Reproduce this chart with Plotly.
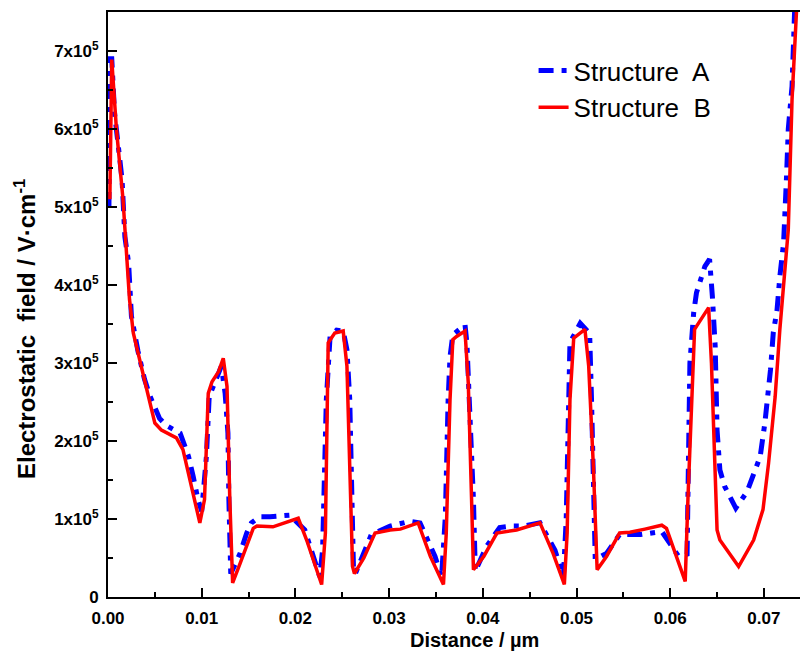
import plotly.graph_objects as go

# Distance (um) and electrostatic field (units of 1e5 V/cm)
dist_b = [0.0002, 0.0004, 0.0009, 0.0016, 0.0023, 0.0027, 0.0038, 0.0050, 0.0057, 0.0073,
          0.0080, 0.0098, 0.0103, 0.0107, 0.0111, 0.0118, 0.0123, 0.0127, 0.0130, 0.0133,
          0.0141, 0.0155, 0.0159, 0.0176, 0.0203, 0.0212, 0.0228, 0.0232, 0.0235, 0.0242,
          0.0251, 0.0255, 0.0258, 0.0261, 0.0263, 0.0273, 0.0285, 0.0301, 0.0312, 0.0331,
          0.0344, 0.0358, 0.0361, 0.0365, 0.0368, 0.0372, 0.0381, 0.03845, 0.0388, 0.0390,
          0.0401, 0.0415, 0.0436, 0.0461, 0.0475, 0.0487, 0.0490, 0.0493, 0.0497, 0.0509,
          0.0513, 0.0518, 0.0522, 0.0532, 0.0546, 0.0557, 0.0573, 0.0591, 0.0596, 0.0616,
          0.0619, 0.0626, 0.0628, 0.0641, 0.0644, 0.0650, 0.0653, 0.0673, 0.0689, 0.0699,
          0.0705, 0.0712, 0.0717, 0.0723, 0.0726, 0.0730, 0.0734, 0.0736]
field_b = [5.10, 6.89, 6.00, 5.10, 3.81, 3.385, 2.83, 2.23, 2.14, 2.04,
           1.89, 0.95, 1.25, 2.61, 2.76, 2.89, 3.06, 2.70, 1.25, 0.18,
           0.43, 0.88, 0.91, 0.90, 1.01, 0.73, 0.16, 0.82, 3.26, 3.385,
           3.41, 2.96, 1.67, 0.39, 0.30, 0.50, 0.82, 0.86, 0.87, 0.95,
           0.52, 0.16, 0.82, 2.53, 3.30, 3.34, 3.41, 2.74, 1.25, 0.35,
           0.52, 0.82, 0.86, 0.95, 0.56, 0.16, 0.82, 2.53, 3.32, 3.43,
           2.96, 1.67, 0.35, 0.52, 0.82, 0.83, 0.87, 0.92, 0.88, 0.20,
           1.29, 3.43, 3.47, 3.71, 3.00, 0.86, 0.73, 0.39, 0.73, 1.12,
           1.72, 2.57, 3.43, 4.28, 4.71, 6.38, 7.49, 7.80]

dist_a = [0.0001, 0.0002, 0.0004, 0.0007, 0.0011, 0.0015, 0.0018, 0.0022, 0.0025, 0.0032,
          0.0039, 0.0045, 0.0055, 0.0062, 0.0077, 0.0086, 0.0091, 0.0096, 0.0100, 0.0105,
          0.0108, 0.0114, 0.0121, 0.0125, 0.0128, 0.0129, 0.0131, 0.0141, 0.0148, 0.0153,
          0.0162, 0.0173, 0.0194, 0.0210, 0.0219, 0.0226, 0.0229, 0.0233, 0.0237, 0.0244,
          0.0251, 0.0255, 0.0258, 0.0260, 0.0262, 0.0264, 0.0271, 0.0281, 0.0301, 0.0322,
          0.0333, 0.0349, 0.0356, 0.0360, 0.0363, 0.0365, 0.0368, 0.0381, 0.0383, 0.0386,
          0.0390, 0.0392, 0.0404, 0.0418, 0.0431, 0.0443, 0.0461, 0.0477, 0.0486, 0.0489,
          0.0491, 0.0493, 0.0504, 0.0514, 0.0516, 0.0518, 0.0520, 0.0532, 0.0546, 0.0557,
          0.0568, 0.0591, 0.0609, 0.0618, 0.0619, 0.0621, 0.0625, 0.0628, 0.0637, 0.0642,
          0.0645, 0.0648, 0.0650, 0.0653, 0.0658, 0.0670, 0.0682, 0.0692, 0.0696, 0.0701,
          0.0704, 0.0707, 0.0710, 0.0714, 0.0717, 0.0721, 0.0724, 0.0726, 0.0730, 0.0731,
          0.0733]
field_a = [5.00, 6.90, 6.90, 6.20, 5.78, 5.35, 4.62, 4.28, 3.60, 3.15,
           2.79, 2.57, 2.29, 2.20, 2.10, 1.80, 1.54, 1.25, 1.10, 1.80,
           2.57, 2.76, 2.96, 2.61, 2.10, 1.25, 0.30, 0.56, 0.82, 0.95,
           1.03, 1.03, 1.05, 0.86, 0.52, 0.26, 0.60, 2.53, 3.34, 3.42,
           3.41, 3.17, 2.53, 1.25, 0.35, 0.30, 0.52, 0.80, 0.91, 0.97,
           0.95, 0.52, 0.26, 1.03, 2.53, 3.08, 3.36, 3.49, 3.26, 2.53,
           1.25, 0.33, 0.65, 0.89, 0.91, 0.91, 0.95, 0.60, 0.26, 1.00,
           2.53, 3.26, 3.51, 3.38, 2.53, 1.25, 0.48, 0.56, 0.80, 0.80,
           0.80, 0.84, 0.52, 0.55, 1.72, 3.00, 3.64, 3.90, 4.24, 4.33,
           3.85, 3.21, 2.14, 1.63, 1.42, 1.14, 1.35, 1.65, 1.80, 2.23,
           2.53, 2.91, 3.39, 3.68, 4.11, 4.54, 5.35, 6.00, 6.55, 7.15,
           7.60]

x_ticks = [0.00, 0.01, 0.02, 0.03, 0.04, 0.05, 0.06, 0.07]
x_labels = ["0.00", "0.01", "0.02", "0.03", "0.04", "0.05", "0.06", "0.07"]
y_ticks = [0, 1, 2, 3, 4, 5, 6, 7]
y_labels = ["0"] + [f"{v}x10<sup>5</sup>" for v in range(1, 8)]

x_title = "Distance / µm"
y_title = "Electrostatic  field / V·cm<sup>-1</sup>"

FONT = "Liberation Sans, Arial, sans-serif"

fig = go.Figure()
fig.add_trace(go.Scatter(
    x=dist_a, y=field_a, mode="lines", name="Structure  A",
    line=dict(color="#0000FF", width=5, dash="15px,8px,5px,8px"),
))
fig.add_trace(go.Scatter(
    x=dist_b, y=field_b, mode="lines", name="Structure  B",
    line=dict(color="#FF0000", width=3.5),
))

fig.update_layout(
    width=800, height=655,
    margin=dict(l=108, r=0, t=12, b=58),
    paper_bgcolor="white", plot_bgcolor="white",
    font=dict(family=FONT, color="black"),
    showlegend=True,
    legend=dict(
        x=0.615, y=0.94, xanchor="left", yanchor="top",
        bgcolor="rgba(0,0,0,0)", font=dict(size=26, family=FONT),
        tracegroupgap=0,
    ),
    annotations=[
        dict(text=f"<b>{x_title}</b>", xref="paper", yref="paper",
             x=0.529, y=-0.074, xanchor="center", yanchor="middle",
             showarrow=False, font=dict(size=20, family=FONT)),
        dict(text=f"<b>{y_title}</b>", xref="paper", yref="paper",
             x=-0.12, y=0.458, xanchor="center", yanchor="middle", textangle=-90,
             showarrow=False, font=dict(size=24, family=FONT)),
    ],
)
fig.update_xaxes(
    range=[0, 0.07385], tickvals=x_ticks, ticktext=x_labels,
    showline=True, linecolor="black", linewidth=2, mirror=True,
    ticks="inside", ticklen=9, tickwidth=2, tickcolor="black",
    minor=dict(dtick=0.005, tick0=0, ticks="inside", ticklen=5, tickwidth=2, tickcolor="black"),
    showgrid=False, zeroline=False,
    tickfont=dict(size=17, family=FONT, weight="bold"),
    ticklabelstandoff=5,
)
fig.update_yaxes(
    range=[0, 7.5], tickvals=y_ticks, ticktext=y_labels,
    showline=True, linecolor="black", linewidth=2, mirror=False,
    ticks="inside", ticklen=9, tickwidth=2, tickcolor="black",
    minor=dict(dtick=0.5, tick0=0, ticks="inside", ticklen=5, tickwidth=2, tickcolor="black"),
    showgrid=False, zeroline=False,
    tickfont=dict(size=17, family=FONT, weight="bold"),
    ticklabelstandoff=4,
)

fig.write_html("out.html")
